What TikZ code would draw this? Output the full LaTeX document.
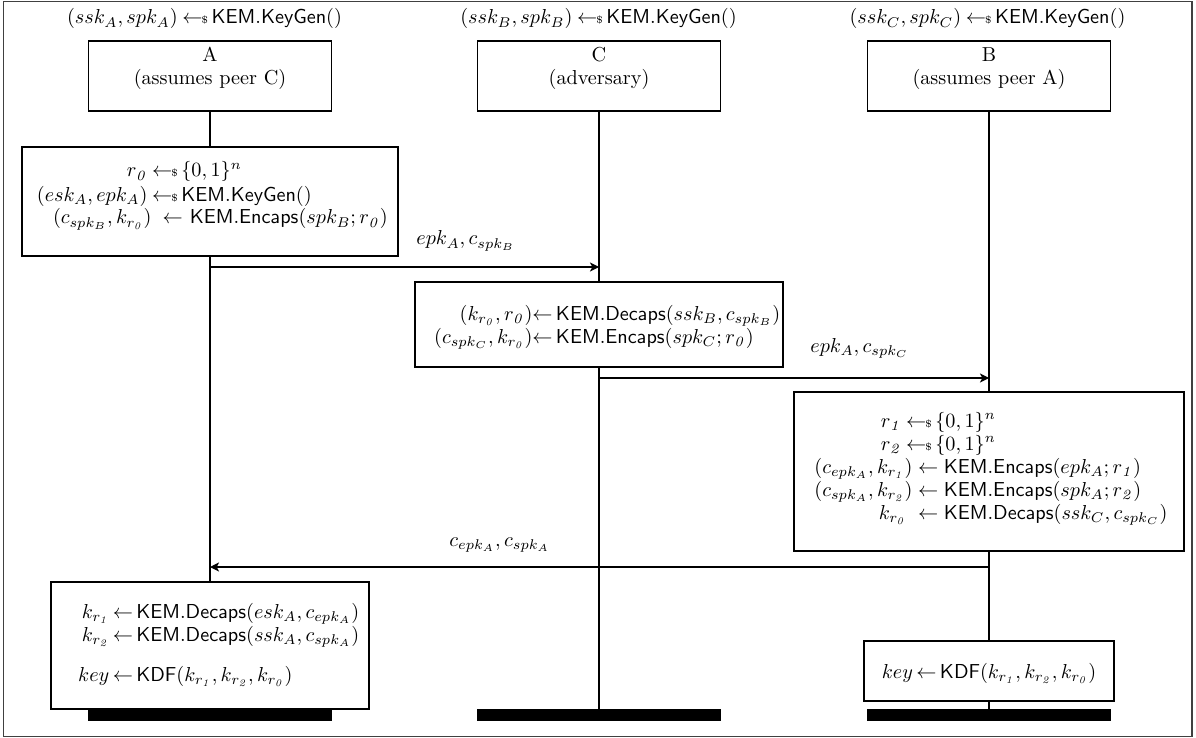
\documentclass[tikz,border=0pt]{standalone}
\usetikzlibrary{arrows.meta,fit,backgrounds}
\newcommand{\smp}{\hskip2.3pt{\gets\!\!\mbox{\tiny\$}}\,}
\newcommand{\KEM}[1]{\mathsf{KEM.#1}}
\newcommand{\rzero}{r_{\mathit{0}}}
\newcommand{\rone}{r_{\mathit{1}}}
\newcommand{\rtwo}{r_{\mathit{2}}}
\tikzset{
  frame/.style={draw=black!75, line width=0.6pt},
  rolebox/.style={draw, line width=0.75pt, fill=white, inner sep=0pt},
  actbox/.style={draw, line width=0.75pt, fill=white, inner sep=0pt},
  endbar/.style={fill=black, inner sep=0pt},
  lifeline/.style={line width=1pt},
  msg/.style={line width=0.6pt, -{Stealth[length=4.5pt,width=4.5pt,inset=1.2pt]}},
  txt/.style={inner sep=0pt, anchor=base west},
  ctxt/.style={inner sep=0pt, anchor=base},
}
\begin{document}
\begin{tikzpicture}[x=0.495pt,y=-0.495pt]
\useasboundingbox (0,0) rectangle (1196,738);

% role boxes
\node[rolebox, fit={(88.5,41)(331.5,111)}] (roleA) {};
\node[rolebox, fit={(477.5,41)(720.5,111)}] (roleC) {};
\node[rolebox, fit={(867.5,41)(1110.5,111)}] (roleB) {};

% headers
\node[ctxt] (hA) at (204.5,24) {$(ssk_A,spk_A)\smp\KEM{KeyGen}()$};
\node[ctxt] (hC) at (598.5,24) {$(ssk_B,spk_B)\smp\KEM{KeyGen}()$};
\node[ctxt] (hB) at (987.5,24) {$(ssk_C,spk_C)\smp\KEM{KeyGen}()$};

% role texts
\node[ctxt] (nA) at (210,62) {A};
\node[ctxt] (dA) at (210,85) {(assumes peer C)};
\node[ctxt] (nC) at (599,62) {C};
\node[ctxt] (dC) at (599,85) {(adversary)};
\node[ctxt] (nB) at (989,62) {B};
\node[ctxt] (dB) at (989,85) {(assumes peer A)};

% action boxes
\node[actbox, fit={(22,147)(398,256)}] (actA1) {};
\node[actbox, fit={(415,282)(783,367)}] (actC1) {};
\node[actbox, fit={(794,392)(1184,551)}] (actB1) {};
\node[actbox, fit={(51,582)(369,709)}] (actA2) {};
\node[actbox, fit={(864,641)(1114,701)}] (actB2) {};

% end bars
\node[endbar, fit={(88,709)(332,721)}] (barA) {};
\node[endbar, fit={(477,709)(721,721)}] (barC) {};
\node[endbar, fit={(867,709)(1111,721)}] (barB) {};

% A1 text
\node[txt] (a1l1) at (147,177) {$\llap{$\rzero$}\smp\{0,1\}^n$};
\node[txt] (a1l2) at (147,201) {$\llap{$(esk_A,epk_A)$}\smp\KEM{KeyGen}()$};
\node[txt] (a1l3) at (151,224) {$\llap{$(c_{spk_B},k_{\rzero})$}\kern5.5pt{\gets}\kern3.5pt\KEM{Encaps}(spk_B;\rzero)$};

% C1 text
\node[txt] (c1l1) at (532,320) {$\llap{$(k_{\rzero},\rzero)$}{\gets}\,\KEM{Decaps}(ssk_B,c_{spk_B})$};
\node[txt] (c1l2) at (532,343) {$\llap{$(c_{spk_C},k_{\rzero})$}{\gets}\,\KEM{Encaps}(spk_C;\rzero)$};

% B1 text
\node[txt] (b1l1) at (901,427) {$\llap{$\rone$}\smp\{0,1\}^n$};
\node[txt] (b1l2) at (901,450) {$\llap{$\rtwo$}\smp\{0,1\}^n$};
\node[txt] (b1l3) at (912,473) {$\llap{$(c_{epk_A},k_{\rone})$}\gets\KEM{Encaps}(epk_A;\rone)$};
\node[txt] (b1l4) at (912,496) {$\llap{$(c_{spk_A},k_{\rtwo})$}\gets\KEM{Encaps}(spk_A;\rtwo)$};
\node[txt] (b1l5) at (912,519) {$\llap{$k_{\rzero}$\kern3pt}\gets\KEM{Decaps}(ssk_C,c_{spk_C})$};

% A2 text
\node[txt] (a2l1) at (109,618) {$\llap{$k_{\rone}$}\,{\gets}\,\KEM{Decaps}(esk_A,c_{epk_A})$};
\node[txt] (a2l2) at (109,641) {$\llap{$k_{\rtwo}$}\,{\gets}\,\KEM{Decaps}(ssk_A,c_{spk_A})$};
\node[txt] (a2l3) at (109,681) {$\llap{$key$}\,{\gets}\,\mathsf{KDF}(k_{\rone},k_{\rtwo},k_{\rzero})$};

% B2 text
\node[ctxt] (b2l1) at (989,678) {$key\,{\gets}\,\mathsf{KDF}(k_{\rone},k_{\rtwo},k_{\rzero})$};

% message labels
\node[txt] (lab1) at (416,245) {$epk_A, c_{spk_B}$};
\node[txt] (lab2) at (810,352) {$epk_A, c_{spk_C}$};
\node[txt] (lab3) at (449,546) {$c_{epk_A}, c_{spk_A}$};

% messages
\coordinate (m1s) at (210,267); \coordinate (m1e) at (599,267);
\coordinate (m2s) at (599,378); \coordinate (m2e) at (989,378);
\coordinate (m3s) at (989,567); \coordinate (m3e) at (210,567);
\draw[msg] (m1s) -- (m1e);
\draw[msg] (m2s) -- (m2e);
\draw[msg] (m3s) -- (m3e);

\begin{scope}[on background layer]
  \draw[frame] (3.5,1.5) rectangle (1192,736.5);
  \draw[lifeline] (roleA.south) -- (barA.north);
  \draw[lifeline] (roleC.south) -- (barC.north);
  \draw[lifeline] (roleB.south) -- (barB.north);
\end{scope}
\end{tikzpicture}
\end{document}
